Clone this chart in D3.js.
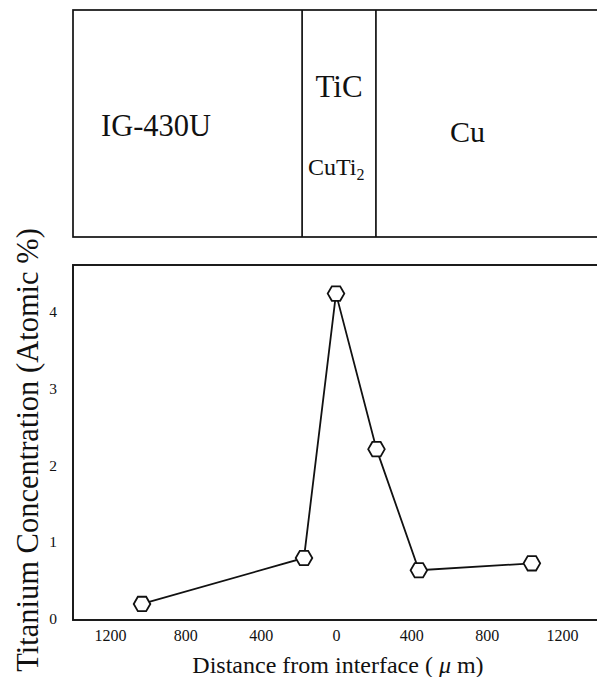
<!DOCTYPE html>
<html>
<head>
<meta charset="utf-8">
<script src="https://cdn.jsdelivr.net/npm/d3@7"></script>
<style>
  html, body { margin: 0; padding: 0; background: #fff; }
  svg { display: block; }
  text { font-family: "Liberation Serif", "Times New Roman", serif; fill: #111; }
</style>
</head>
<body>
<div id="chart"></div>
<script>
// ---- data ----
const distance = [-1030, -170, 0, 215, 440, 1040];          // μm from interface (negative = IG-430U side)
const titanium = [0.19, 0.79, 4.24, 2.21, 0.63, 0.72];      // atomic %
const xTicks = [-1200, -800, -400, 0, 400, 800, 1200];
const yTicks = [0, 1, 2, 3, 4];
const layerBounds = [-180, 212];                            // μm, boundaries of reaction layer
const layerNames = ["IG-430U", "TiC", "CuTi", "Cu"];

const W = 597, H = 677;
const svg = d3.select("#chart").append("svg").attr("width", W).attr("height", H);

const left = 73, right = 603;
const plotTop = 265, plotBottom = 620;
const boxTop = 10, boxBottom = 237;

const x = d3.scaleLinear().domain([-1200, 1200]).range([110, 562]);
const y = d3.scaleLinear().domain([0, 4]).range([618.5, 312]);

// ---- top layer diagram ----
svg.append("rect").attr("x", left).attr("y", boxTop)
  .attr("width", right - left).attr("height", boxBottom - boxTop)
  .attr("fill", "none").attr("stroke", "#111").attr("stroke-width", 1.7);
svg.selectAll("line.bound").data(layerBounds).enter().append("line")
  .attr("class", "bound")
  .attr("x1", d => x(d)).attr("x2", d => x(d))
  .attr("y1", boxTop).attr("y2", boxBottom)
  .attr("stroke", "#111").attr("stroke-width", 1.7);

svg.append("text").attr("x", 101).attr("y", 136).attr("font-size", 30.5).text(layerNames[0]);
svg.append("text").attr("x", x(0) + 3).attr("y", 97).attr("font-size", 31)
  .attr("text-anchor", "middle").text(layerNames[1]);
const cuti = svg.append("text").attr("x", 308).attr("y", 175).attr("font-size", 24);
cuti.append("tspan").text(layerNames[2]);
cuti.append("tspan").attr("font-size", 16).attr("dy", 5).text("2");
svg.append("text").attr("x", 450).attr("y", 142).attr("font-size", 30).text(layerNames[3]);

// ---- lower plot frame ----
svg.append("rect").attr("x", left).attr("y", plotTop)
  .attr("width", right - left).attr("height", plotBottom - plotTop)
  .attr("fill", "none").attr("stroke", "#111").attr("stroke-width", 1.9);

// axes (labels only, no tick marks)
const xAxis = d3.axisBottom(x).tickValues(xTicks).tickSize(0).tickPadding(0)
  .tickFormat(d => Math.abs(d));
const gx = svg.append("g").attr("transform", `translate(0,${630})`).call(xAxis);
gx.select(".domain").remove();
gx.selectAll("text").attr("font-size", 16).attr("fill", "#111");

const yAxis = d3.axisLeft(y).tickValues(yTicks).tickSize(0).tickPadding(0).tickFormat(d3.format("d"));
const gy = svg.append("g").attr("transform", `translate(${57},0)`).call(yAxis);
gy.select(".domain").remove();
gy.selectAll("text").attr("font-size", 15.5).attr("fill", "#111");

// ---- data line and hexagon markers ----
const pts = distance.map((d, i) => [x(d), y(titanium[i])]);
svg.append("path").datum(pts)
  .attr("d", d3.line())
  .attr("fill", "none").attr("stroke", "#111").attr("stroke-width", 1.8);

const r = 8.3;
const hex = d3.range(6).map(k => [r * Math.cos(k * Math.PI / 3), r * Math.sin(k * Math.PI / 3)]);
svg.selectAll("path.hex").data(pts).enter().append("path")
  .attr("class", "hex")
  .attr("transform", d => `translate(${d[0]},${d[1]})`)
  .attr("d", "M" + hex.map(p => p.join(",")).join("L") + "Z")
  .attr("fill", "#fff").attr("stroke", "#111").attr("stroke-width", 1.8);

// ---- titles ----
svg.append("text").attr("transform", "translate(38,450) rotate(-90)")
  .attr("text-anchor", "middle").attr("font-size", 30.5)
  .text("Titanium Concentration (Atomic %)");

const xt = svg.append("text").attr("x", 338).attr("y", 673).attr("text-anchor", "middle").attr("font-size", 24);
xt.append("tspan").text("Distance from interface ( ");
xt.append("tspan").attr("font-style", "italic").text("μ");
xt.append("tspan").text(" m)");
</script>
</body>
</html>
